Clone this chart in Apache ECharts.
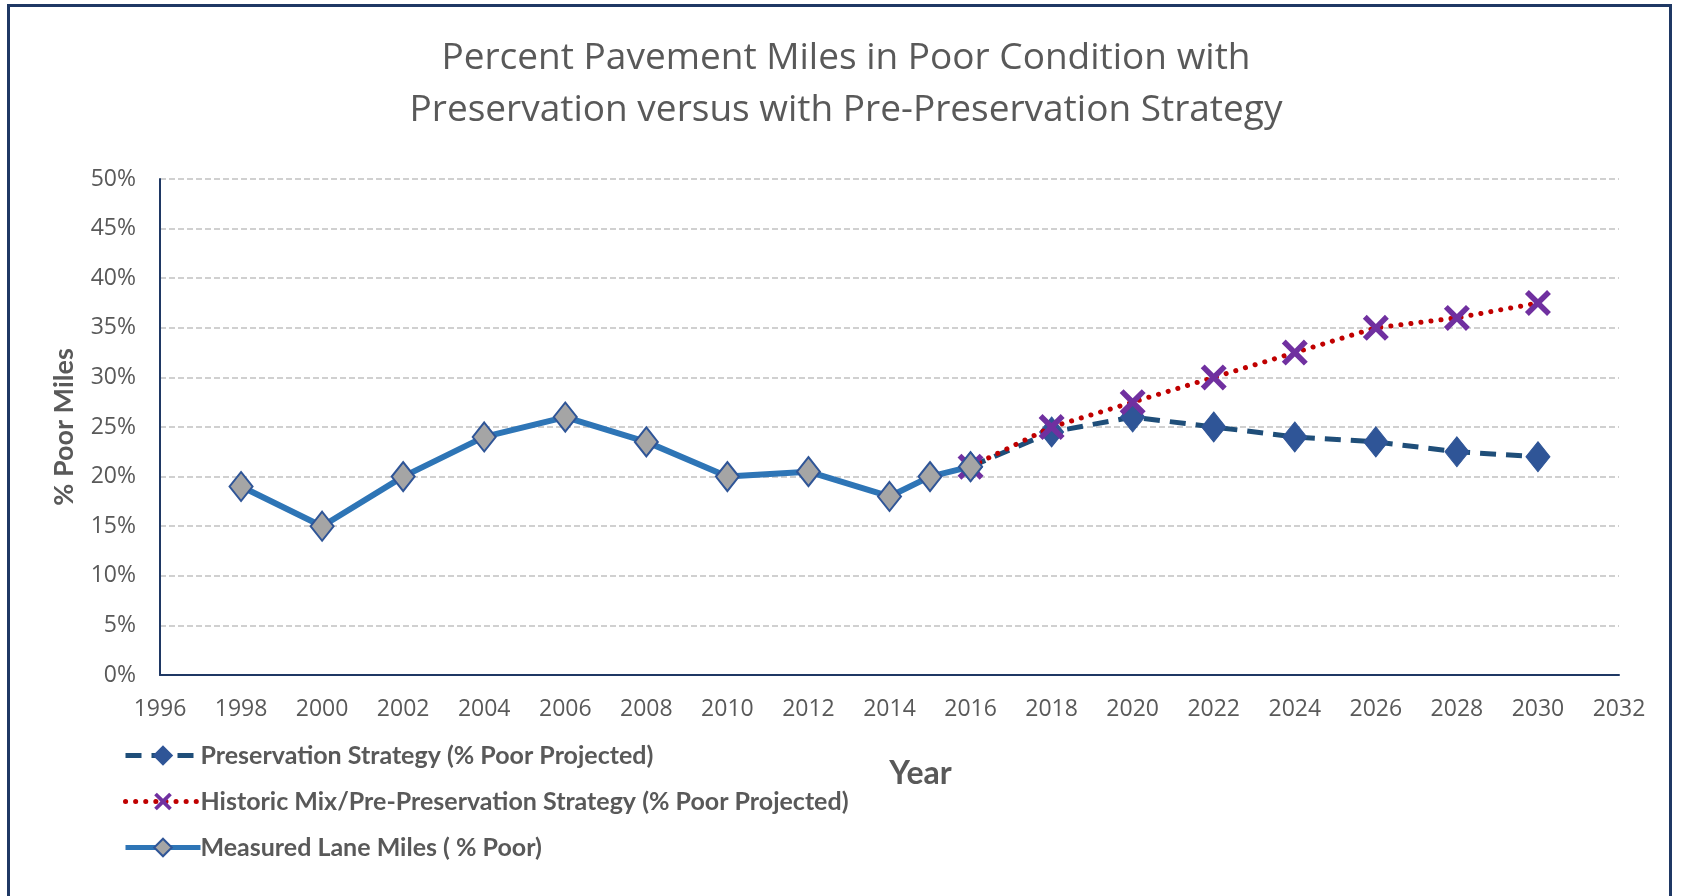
<!DOCTYPE html>
<html>
<head>
<meta charset="utf-8">
<script src="https://cdn.jsdelivr.net/npm/echarts@6/dist/echarts.min.js"></script>
<style>
  html, body { margin: 0; padding: 0; background: #ffffff; }
  #chart { width: 1681px; height: 896px; position: relative; }
  .frame {
    position: absolute; left: 7px; top: 4px; width: 1665px; height: 910px;
    border: 3px solid #1F3864; box-sizing: border-box; pointer-events: none;
  }
</style>
</head>
<body>
<div id="chart"></div>
<div class="frame"></div>
<script>
// measured history (2015 sits between the 2-year ticks)
const measuredYears = [1998, 2000, 2002, 2004, 2006, 2008, 2010, 2012, 2014, 2015, 2016];
const measuredValues = [19, 15, 20, 24, 26, 23.5, 20, 20.5, 18, 20, 21];

// projections
const projYears = [2016, 2018, 2020, 2022, 2024, 2026, 2028, 2030];
const preservationValues = [21, 24.5, 26, 25, 24, 23.5, 22.5, 22];
const historicValues = [21, 25, 27.5, 30, 32.5, 35, 36, 37.5];

const seriesNames = [
  'Preservation Strategy (% Poor Projected)',
  'Historic Mix/Pre-Preservation Strategy (% Poor Projected)',
  'Measured Lane Miles ( % Poor)'
];

const pair = (xs, ys) => xs.map((x, i) => [x, ys[i]]);

// thin "x" marker like Excel's
const xMark = 'path://M1.5,0 L5,3.5 L8.5,0 L10,1.5 L6.5,5 L10,8.5 L8.5,10 L5,6.5 L1.5,10 L0,8.5 L3.5,5 L0,1.5 Z';

const chart = echarts.init(document.getElementById('chart'));

chart.setOption({
  backgroundColor: '#ffffff',
  animation: false,
  title: {
    text: 'Percent Pavement Miles in Poor Condition with\nPreservation versus with Pre-Preservation Strategy',
    left: 841,
    textAlign: 'center',
    top: 27,
    textStyle: {
      color: '#595959',
      fontFamily: 'Open Sans',
      fontSize: 37,
      fontWeight: 'normal',
      lineHeight: 52
    }
  },
  legend: {
    orient: 'vertical',
    left: 118,
    top: 738,
    itemGap: 21,
    itemWidth: 75,
    itemHeight: 22,
    data: seriesNames,
    lineStyle: { width: 5 },
    textStyle: {
      color: '#595959',
      fontFamily: 'Lato',
      fontSize: 25,
      fontWeight: 'bold',
      padding: [0, 0, 0, -5]
    }
  },
  grid: { left: 160, right: 62, top: 179, bottom: 221 },
  xAxis: {
    type: 'value',
    min: 1996,
    max: 2032,
    interval: 2,
    name: 'Year',
    nameLocation: 'middle',
    nameGap: 83,
    nameTextStyle: {
      color: '#595959',
      fontFamily: 'Lato',
      fontSize: 32,
      fontWeight: 'bold',
      padding: [0, 0, 0, 62]
    },
    axisLine: { lineStyle: { color: '#1F3864', width: 2 } },
    axisTick: { show: false },
    splitLine: { show: false },
    axisLabel: {
      color: '#595959',
      fontFamily: 'Open Sans',
      fontSize: 23,
      margin: 23,
      formatter: v => String(v)
    }
  },
  yAxis: {
    type: 'value',
    min: 0,
    max: 50,
    interval: 5,
    name: '% Poor Miles',
    nameLocation: 'middle',
    nameGap: 82,
    nameTextStyle: {
      color: '#595959',
      fontFamily: 'Lato',
      fontSize: 27,
      fontWeight: 'bold'
    },
    axisLine: { show: true, lineStyle: { color: '#1F3864', width: 2 } },
    axisTick: { show: false },
    axisLabel: {
      color: '#595959',
      fontFamily: 'Open Sans',
      fontSize: 23,
      margin: 24,
      formatter: '{value}%'
    },
    splitLine: {
      lineStyle: { color: '#D0D0D0', width: 2, type: [6, 3] }
    }
  },
  series: [
    {
      name: seriesNames[0],
      type: 'line',
      data: pair(projYears, preservationValues),
      symbol: 'diamond',
      symbolSize: [24, 30],
      z: 3,
      lineStyle: { color: '#1F4E79', width: 5, type: [16, 10] },
      itemStyle: { color: '#2F5597', borderColor: '#2F5597', borderWidth: 1 }
    },
    {
      name: seriesNames[1],
      type: 'line',
      data: pair(projYears, historicValues),
      symbol: xMark,
      symbolSize: 26,
      z: 4,
      lineStyle: { color: '#C00000', width: 5, type: [0.1, 10], cap: 'round' },
      itemStyle: { color: '#7030A0' }
    },
    {
      name: seriesNames[2],
      type: 'line',
      data: pair(measuredYears, measuredValues),
      symbol: 'diamond',
      symbolSize: [23, 29],
      z: 5,
      lineStyle: { color: '#2E75B6', width: 6 },
      itemStyle: { color: '#A5A5A5', borderColor: '#2F5597', borderWidth: 2 }
    }
  ]
});
</script>
</body>
</html>
